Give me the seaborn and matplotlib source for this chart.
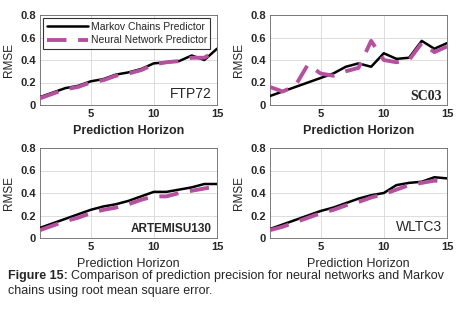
import numpy as np
import pandas as pd
import matplotlib.pyplot as plt
import seaborn as sns

# datos
horizonte = list(range(1, 16))

ftp72_markov = [0.07, 0.11, 0.15, 0.17, 0.21, 0.23, 0.27, 0.29, 0.32, 0.37, 0.38, 0.39, 0.44, 0.40, 0.50]
ftp72_neural = [0.06, 0.10, 0.14, 0.16, 0.20, 0.22, 0.26, 0.28, 0.31, 0.36, 0.38, 0.39, 0.42, 0.42, 0.49]

sc03_markov = [0.08, 0.12, 0.16, 0.20, 0.24, 0.28, 0.34, 0.37, 0.34, 0.46, 0.41, 0.42, 0.57, 0.50, 0.55]
sc03_neural = [0.16, 0.12, 0.17, 0.36, 0.28, 0.26, 0.30, 0.33, 0.57, 0.40, 0.38, 0.40, 0.55, 0.47, 0.52]

artemis_markov = [0.09, 0.13, 0.17, 0.21, 0.25, 0.28, 0.30, 0.33, 0.37, 0.41, 0.41, 0.43, 0.45, 0.48, 0.48]
artemis_neural = [0.07, 0.11, 0.15, 0.18, 0.22, 0.25, 0.27, 0.30, 0.34, 0.37, 0.37, 0.40, 0.42, 0.44, 0.46]

wltc3_markov = [0.08, 0.12, 0.16, 0.20, 0.24, 0.27, 0.31, 0.35, 0.38, 0.40, 0.47, 0.49, 0.50, 0.54, 0.53]
wltc3_neural = [0.07, 0.10, 0.14, 0.18, 0.22, 0.25, 0.29, 0.32, 0.36, 0.39, 0.43, 0.47, 0.49, 0.51, 0.50]

ciclos = ['FTP72', 'SC03', 'ARTEMISU130', 'WLTC3']
markov = [ftp72_markov, sc03_markov, artemis_markov, wltc3_markov]
neural = [ftp72_neural, sc03_neural, artemis_neural, wltc3_neural]

sns.set_style('white')
plt.rcParams['font.family'] = ['Liberation Sans', 'DejaVu Sans']

fig = plt.figure(figsize=(4.61, 3.16), dpi=100)

# posiciones de cada panel (en pixeles)
W, H = 461, 316
cajas = [(40, 15, 217, 105), (270, 15, 447, 105), (40, 148, 217, 238), (270, 148, 447, 238)]
magenta = '#b5509f'

for i, ciclo in enumerate(ciclos):
    x0, y0, x1, y1 = cajas[i]
    ax = fig.add_axes([x0 / W, 1 - y1 / H, (x1 - x0) / W, (y1 - y0) / H])
    df = pd.DataFrame({'h': horizonte, 'markov': markov[i], 'neural': neural[i]})
    sns.lineplot(data=df, x='h', y='markov', ax=ax, color='black', lw=1.8,
                 label='Markov Chains Predictor', zorder=3)
    sns.lineplot(data=df, x='h', y='neural', ax=ax, color=magenta, lw=2.8,
                 label='Neural Network Predictor', zorder=4)
    ax.lines[1].set_dashes([5, 3])
    ax.set_xlim(1, 15)
    ax.set_ylim(0, 0.8)
    ax.set_xticks([5, 10, 15])
    ax.set_yticks([0, 0.2, 0.4, 0.6, 0.8])
    ax.set_yticklabels(['0', '0.2', '0.4', '0.6', '0.8'])
    ax.grid(True, color='#d8d8d8', lw=0.6)
    for s in ax.spines.values():
        s.set_color('#666666')
        s.set_linewidth(0.6)
    ax.tick_params(labelsize=8, length=0, pad=3)
    for t in ax.get_xticklabels() + ax.get_yticklabels():
        t.set_fontweight('bold')
    ax.set_ylabel('RMSE', fontsize=8.5)
    if i < 2:
        ax.set_xlabel('Prediction Horizon', fontsize=9, fontweight='bold')
    else:
        ax.set_xlabel('Prediction Horizon', fontsize=9)
    if ciclo == 'SC03':
        ax.text(0.97, 0.1, ciclo, transform=ax.transAxes, ha='right', va='center',
                fontsize=10, fontweight='bold', family='Liberation Serif')
    elif ciclo == 'ARTEMISU130':
        ax.text(0.97, 0.1, ciclo, transform=ax.transAxes, ha='right', va='center',
                fontsize=8.5, fontweight='bold')
    else:
        ax.text(0.97, 0.12, ciclo, transform=ax.transAxes, ha='right', va='center',
                fontsize=10)
    if i == 0:
        leg = ax.legend(loc='upper left', fontsize=7.5, frameon=True, fancybox=False,
                        handlelength=4.0, handletextpad=0.2, borderpad=0.35,
                        labelspacing=0.35, borderaxespad=0.3)
        leg.get_frame().set_edgecolor('black')
        leg.get_frame().set_linewidth(0.8)
        leg.get_lines()[1].set_dashes([5, 3])
    else:
        ax.get_legend().remove()

# pie de figura: "Figure 15:" en negrita y el resto a continuacion
t1 = fig.text(8 / W, 1 - 276 / H, 'Figure 15:', fontsize=9, fontweight='bold', va='center')
fig.canvas.draw()
ancho = t1.get_window_extent().width
fig.text((8 + ancho + 3) / W, 1 - 276 / H,
         'Comparison of prediction precision for neural networks and Markov',
         fontsize=9, va='center')
fig.text(8 / W, 1 - 291 / H, 'chains using root mean square error.', fontsize=9, va='center')

fig.savefig('out.png', dpi=100)
